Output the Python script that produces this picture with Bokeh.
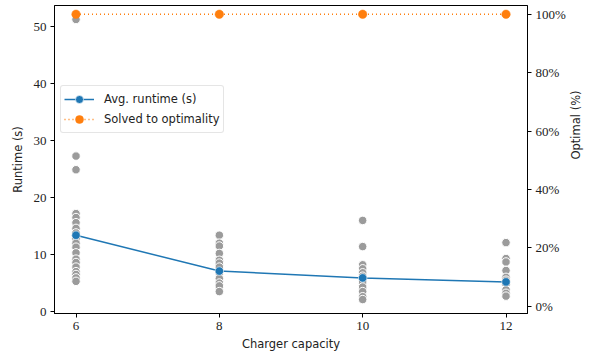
import math
from bokeh.plotting import figure
from bokeh.models import (Range1d, LinearAxis, FixedTicker, PrintfTickFormatter,
                          Legend, LegendItem)
from bokeh.embed import file_html
from bokeh.resources import INLINE

# Charger capacities tested
capacities = [6, 8, 10, 12]

# Per-instance runtimes (s) for each capacity
runtimes_6 = [51.3, 27.3, 24.9, 17.2, 16.5, 15.6, 14.6, 13.8, 12.8, 12.0,
              11.3, 10.3, 9.2, 8.6, 7.8, 7.0, 6.5, 5.9, 5.3]
runtimes_8 = [13.4, 12.0, 11.5, 10.2, 9.0, 8.5, 7.8, 6.8, 5.8, 5.0, 4.5, 3.5]
runtimes_10 = [16.0, 11.4, 8.2, 7.5, 6.8, 6.2, 5.2, 4.3, 3.5, 2.6, 2.1]
runtimes_12 = [12.1, 9.3, 8.7, 7.2, 6.0, 5.5, 4.8, 3.8, 3.2, 2.7]

# Averages and share solved to optimality (%)
avg_runtime = [13.4, 7.1, 5.9, 5.2]
optimal_pct = [100, 100, 100, 100]

# Percentage axis ticks
pct_ticks = [0, 20, 40, 60, 80, 100]

BLUE = "#1f77b4"
ORANGE = "#ff7f0e"
GREY = "#9b9b9b"
TICK_FONT = "Liberation Serif"
LABEL_FONT = "DejaVu Sans"

p = figure(frame_width=473, frame_height=308,
           min_border_left=54, min_border_right=62,
           min_border_top=5, min_border_bottom=47,
           x_range=Range1d(5.7, 12.3), y_range=Range1d(-0.35, 53.75),
           output_backend="svg", toolbar_location=None,
           background_fill_color="white")
p.extra_y_ranges = {"pct": Range1d(-2.5, 103)}

p.xgrid.visible = False
p.ygrid.visible = False
p.outline_line_color = "black"
p.outline_line_width = 1
p.outline_line_alpha = 1

# individual runs
xs, ys = [], []
for cap, vals in zip(capacities, [runtimes_6, runtimes_8, runtimes_10, runtimes_12]):
    xs += [cap] * len(vals)
    ys += vals
p.scatter(xs, ys, size=8.5, fill_color=GREY, line_color="white", line_width=1)

# average runtime
avg_line = p.line(capacities, avg_runtime, line_color=BLUE, line_width=1.5)
avg_pts = p.scatter(capacities, avg_runtime, size=8.5, fill_color=BLUE,
                    line_color="white", line_width=0.6)

# optimality share on the right axis
opt_line = p.line(capacities, optimal_pct, line_color=ORANGE, line_width=1.5,
                  line_dash="1 3", y_range_name="pct")
opt_pts = p.scatter(capacities, optimal_pct, size=8.5, fill_color=ORANGE,
                    line_color=ORANGE, line_width=0.5, y_range_name="pct")

def style_axis(ax):
    ax.axis_line_color = "black"
    ax.major_tick_line_color = "black"
    ax.major_tick_out = 4
    ax.major_tick_in = 0
    ax.minor_tick_line_color = None
    ax.major_label_text_font = TICK_FONT
    ax.major_label_text_font_size = "13px"
    ax.major_label_text_color = "#222222"
    ax.axis_label_text_font = LABEL_FONT
    ax.axis_label_text_font_size = "11.5px"
    ax.axis_label_text_font_style = "normal"
    ax.axis_label_text_color = "#222222"
    ax.major_label_standoff = 4

xa = p.xaxis[0]
xa.ticker = FixedTicker(ticks=capacities)
xa.axis_label = "Charger capacity"
style_axis(xa)
xa.axis_label_standoff = 4

ya = p.yaxis[0]
ya.ticker = FixedTicker(ticks=[0, 10, 20, 30, 40, 50])
ya.axis_label = "Runtime (s)"
style_axis(ya)
ya.axis_label_standoff = 6

ra = LinearAxis(y_range_name="pct", axis_label="Optimal (%)",
                ticker=FixedTicker(ticks=pct_ticks),
                formatter=PrintfTickFormatter(format="%d%%"))
style_axis(ra)
ra.axis_label_standoff = 7
ra.axis_label_orientation = math.pi / 2
p.add_layout(ra, "right")

legend = Legend(items=[
    LegendItem(label="Avg. runtime (s)", renderers=[avg_line, avg_pts]),
    LegendItem(label="Solved to optimality", renderers=[opt_line, opt_pts]),
], location=(6, 180))
legend.margin = 0
legend.padding = 3
legend.spacing = 0
legend.glyph_width = 30
legend.glyph_height = 20
legend.label_height = 20
legend.label_standoff = 10
legend.label_text_font = LABEL_FONT
legend.label_text_font_size = "11.5px"
legend.label_text_color = "#222222"
legend.border_line_color = "#cccccc"
legend.border_line_width = 1
legend.background_fill_alpha = 0.85
if hasattr(legend, "border_radius"):
    legend.border_radius = 3
p.add_layout(legend, "center")

open("out.html", "w").write(file_html(p, INLINE))
